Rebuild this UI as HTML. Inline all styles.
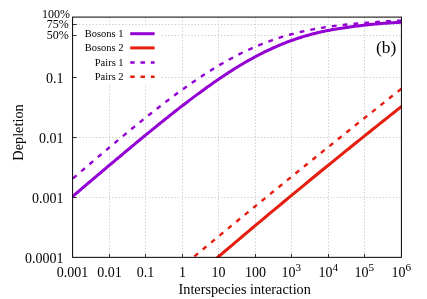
<!DOCTYPE html>
<html><head><meta charset="utf-8"><title>plot</title>
<style>html,body{margin:0;padding:0;background:#fff}svg{will-change:transform;opacity:0.999;filter:blur(0.35px)}svg text{font-family:"Liberation Serif",serif;fill:#000}</style>
</head><body>
<svg width="427" height="299" viewBox="0 0 427 299" style="display:block">
<rect width="427" height="299" fill="#fff"/>
<defs><clipPath id="c"><rect x="72.1" y="16.6" width="329.79999999999995" height="241.25000000000003"/></clipPath></defs>
<line x1="109.50" y1="17.1" x2="109.50" y2="257.35" stroke="#c6c6c6" stroke-width="0.9" stroke-dasharray="1.3,2.0"/>
<line x1="145.50" y1="17.1" x2="145.50" y2="257.35" stroke="#c6c6c6" stroke-width="0.9" stroke-dasharray="1.3,2.0"/>
<line x1="182.50" y1="17.1" x2="182.50" y2="257.35" stroke="#c6c6c6" stroke-width="0.9" stroke-dasharray="1.3,2.0"/>
<line x1="218.50" y1="17.1" x2="218.50" y2="257.35" stroke="#c6c6c6" stroke-width="0.9" stroke-dasharray="1.3,2.0"/>
<line x1="255.50" y1="17.1" x2="255.50" y2="257.35" stroke="#c6c6c6" stroke-width="0.9" stroke-dasharray="1.3,2.0"/>
<line x1="291.50" y1="17.1" x2="291.50" y2="257.35" stroke="#c6c6c6" stroke-width="0.9" stroke-dasharray="1.3,2.0"/>
<line x1="328.50" y1="17.1" x2="328.50" y2="257.35" stroke="#c6c6c6" stroke-width="0.9" stroke-dasharray="1.3,2.0"/>
<line x1="364.50" y1="17.1" x2="364.50" y2="257.35" stroke="#c6c6c6" stroke-width="0.9" stroke-dasharray="1.3,2.0"/>
<line x1="72.6" y1="24.50" x2="401.4" y2="24.50" stroke="#c6c6c6" stroke-width="0.9" stroke-dasharray="1.3,2.0"/>
<line x1="72.6" y1="35.50" x2="401.4" y2="35.50" stroke="#c6c6c6" stroke-width="0.9" stroke-dasharray="1.3,2.0"/>
<line x1="72.6" y1="77.50" x2="401.4" y2="77.50" stroke="#c6c6c6" stroke-width="0.9" stroke-dasharray="1.3,2.0"/>
<line x1="72.6" y1="137.50" x2="401.4" y2="137.50" stroke="#c6c6c6" stroke-width="0.9" stroke-dasharray="1.3,2.0"/>
<line x1="72.6" y1="197.50" x2="401.4" y2="197.50" stroke="#c6c6c6" stroke-width="0.9" stroke-dasharray="1.3,2.0"/>
<line x1="109.50" y1="257.35" x2="109.50" y2="254.05" stroke="#000" stroke-width="0.8"/>
<line x1="145.50" y1="257.35" x2="145.50" y2="254.05" stroke="#000" stroke-width="0.8"/>
<line x1="182.50" y1="257.35" x2="182.50" y2="254.05" stroke="#000" stroke-width="0.8"/>
<line x1="218.50" y1="257.35" x2="218.50" y2="254.05" stroke="#000" stroke-width="0.8"/>
<line x1="255.50" y1="257.35" x2="255.50" y2="254.05" stroke="#000" stroke-width="0.8"/>
<line x1="291.50" y1="257.35" x2="291.50" y2="254.05" stroke="#000" stroke-width="0.8"/>
<line x1="328.50" y1="257.35" x2="328.50" y2="254.05" stroke="#000" stroke-width="0.8"/>
<line x1="364.50" y1="257.35" x2="364.50" y2="254.05" stroke="#000" stroke-width="0.8"/>
<line x1="72.6" y1="24.50" x2="76.6" y2="24.50" stroke="#000" stroke-width="0.8"/>
<line x1="72.6" y1="35.50" x2="76.6" y2="35.50" stroke="#000" stroke-width="0.8"/>
<line x1="72.6" y1="77.50" x2="76.6" y2="77.50" stroke="#000" stroke-width="0.8"/>
<line x1="72.6" y1="137.50" x2="76.6" y2="137.50" stroke="#000" stroke-width="0.8"/>
<line x1="72.6" y1="197.50" x2="76.6" y2="197.50" stroke="#000" stroke-width="0.8"/>
<g clip-path="url(#c)" fill="none" stroke-width="3.05" stroke-linejoin="round">
<path d="M70.60,198.18 L72.27,196.75 L73.94,195.32 L75.62,193.90 L77.29,192.47 L78.96,191.05 L80.63,189.63 L82.31,188.20 L83.98,186.78 L85.65,185.36 L87.32,183.94 L89.00,182.52 L90.67,181.10 L92.34,179.68 L94.01,178.26 L95.69,176.85 L97.36,175.43 L99.03,174.01 L100.70,172.60 L102.37,171.19 L104.05,169.77 L105.72,168.36 L107.39,166.95 L109.06,165.54 L110.74,164.13 L112.41,162.73 L114.08,161.32 L115.75,159.92 L117.43,158.51 L119.10,157.11 L120.77,155.71 L122.44,154.31 L124.12,152.91 L125.79,151.52 L127.46,150.12 L129.13,148.73 L130.81,147.34 L132.48,145.95 L134.15,144.56 L135.82,143.18 L137.49,141.79 L139.17,140.41 L140.84,139.03 L142.51,137.66 L144.18,136.28 L145.86,134.91 L147.53,133.54 L149.20,132.17 L150.87,130.81 L152.55,129.44 L154.22,128.09 L155.89,126.73 L157.56,125.38 L159.24,124.03 L160.91,122.68 L162.58,121.34 L164.25,120.00 L165.92,118.66 L167.60,117.33 L169.27,116.00 L170.94,114.67 L172.61,113.35 L174.29,112.04 L175.96,110.72 L177.63,109.42 L179.30,108.11 L180.98,106.82 L182.65,105.52 L184.32,104.23 L185.99,102.95 L187.67,101.67 L189.34,100.40 L191.01,99.14 L192.68,97.88 L194.35,96.62 L196.03,95.37 L197.70,94.13 L199.37,92.90 L201.04,91.67 L202.72,90.45 L204.39,89.23 L206.06,88.03 L207.73,86.83 L209.41,85.64 L211.08,84.45 L212.75,83.28 L214.42,82.11 L216.10,80.95 L217.77,79.80 L219.44,78.66 L221.11,77.53 L222.78,76.41 L224.46,75.30 L226.13,74.19 L227.80,73.10 L229.47,72.02 L231.15,70.95 L232.82,69.89 L234.49,68.83 L236.16,67.79 L237.84,66.77 L239.51,65.75 L241.18,64.74 L242.85,63.75 L244.53,62.77 L246.20,61.80 L247.87,60.84 L249.54,59.89 L251.22,58.96 L252.89,58.04 L254.56,57.13 L256.23,56.23 L257.90,55.35 L259.58,54.48 L261.25,53.63 L262.92,52.78 L264.59,51.96 L266.27,51.14 L267.94,50.34 L269.61,49.55 L271.28,48.78 L272.96,48.01 L274.63,47.27 L276.30,46.53 L277.97,45.82 L279.65,45.11 L281.32,44.42 L282.99,43.74 L284.66,43.07 L286.33,42.42 L288.01,41.79 L289.68,41.16 L291.35,40.55 L293.02,39.96 L294.70,39.37 L296.37,38.81 L298.04,38.25 L299.71,37.71 L301.39,37.18 L303.06,36.66 L304.73,36.16 L306.40,35.67 L308.08,35.19 L309.75,34.73 L311.42,34.28 L313.09,33.84 L314.76,33.42 L316.44,33.00 L318.11,32.61 L319.78,32.22 L321.45,31.84 L323.13,31.48 L324.80,31.13 L326.47,30.79 L328.14,30.46 L329.82,30.15 L331.49,29.84 L333.16,29.54 L334.83,29.26 L336.51,28.98 L338.18,28.71 L339.85,28.44 L341.52,28.19 L343.19,27.93 L344.87,27.69 L346.54,27.45 L348.21,27.21 L349.88,26.98 L351.56,26.76 L353.23,26.54 L354.90,26.32 L356.57,26.10 L358.25,25.89 L359.92,25.69 L361.59,25.48 L363.26,25.29 L364.94,25.10 L366.61,24.91 L368.28,24.73 L369.95,24.55 L371.63,24.38 L373.30,24.22 L374.97,24.06 L376.64,23.91 L378.31,23.76 L379.99,23.62 L381.66,23.48 L383.33,23.35 L385.00,23.23 L386.68,23.11 L388.35,23.00 L390.02,22.89 L391.69,22.78 L393.37,22.68 L395.04,22.59 L396.71,22.50 L398.38,22.41 L400.06,22.32 L401.73,22.24 L403.40,22.16" stroke="#9400d3"/>
<path d="M205.00,268.20 L208.36,265.32 L211.73,262.45 L215.09,259.58 L218.45,256.72 L221.81,253.86 L225.18,251.00 L228.54,248.14 L231.90,245.29 L235.26,242.45 L238.63,239.61 L241.99,236.77 L245.35,233.93 L248.72,231.10 L252.08,228.28 L255.44,225.45 L258.80,222.63 L262.17,219.82 L265.53,217.01 L268.89,214.20 L272.25,211.39 L275.62,208.59 L278.98,205.80 L282.34,203.01 L285.71,200.22 L289.07,197.43 L292.43,194.65 L295.79,191.87 L299.16,189.10 L302.52,186.33 L305.88,183.56 L309.24,180.80 L312.61,178.04 L315.97,175.29 L319.33,172.54 L322.69,169.79 L326.06,167.05 L329.42,164.31 L332.78,161.57 L336.15,158.84 L339.51,156.11 L342.87,153.39 L346.23,150.67 L349.60,147.95 L352.96,145.24 L356.32,142.53 L359.68,139.83 L363.05,137.13 L366.41,134.43 L369.77,131.74 L373.14,129.05 L376.50,126.36 L379.86,123.68 L383.22,121.00 L386.59,118.33 L389.95,115.66 L393.31,112.99 L396.67,110.33 L400.04,107.67 L403.40,105.01" stroke="#e51e10"/>
<path d="M70.60,180.47 L72.27,179.03 L73.94,177.59 L75.62,176.15 L77.29,174.72 L78.96,173.28 L80.63,171.85 L82.31,170.42 L83.98,168.98 L85.65,167.55 L87.32,166.13 L89.00,164.70 L90.67,163.27 L92.34,161.85 L94.01,160.42 L95.69,159.00 L97.36,157.58 L99.03,156.17 L100.70,154.75 L102.37,153.34 L104.05,151.92 L105.72,150.51 L107.39,149.11 L109.06,147.70 L110.74,146.30 L112.41,144.89 L114.08,143.49 L115.75,142.10 L117.43,140.70 L119.10,139.31 L120.77,137.92 L122.44,136.54 L124.12,135.15 L125.79,133.77 L127.46,132.39 L129.13,131.02 L130.81,129.65 L132.48,128.28 L134.15,126.92 L135.82,125.55 L137.49,124.20 L139.17,122.84 L140.84,121.49 L142.51,120.15 L144.18,118.81 L145.86,117.47 L147.53,116.13 L149.20,114.81 L150.87,113.48 L152.55,112.16 L154.22,110.85 L155.89,109.54 L157.56,108.23 L159.24,106.94 L160.91,105.64 L162.58,104.35 L164.25,103.07 L165.92,101.80 L167.60,100.53 L169.27,99.26 L170.94,98.01 L172.61,96.75 L174.29,95.51 L175.96,94.27 L177.63,93.04 L179.30,91.82 L180.98,90.61 L182.65,89.40 L184.32,88.20 L185.99,87.01 L187.67,85.82 L189.34,84.65 L191.01,83.48 L192.68,82.32 L194.35,81.17 L196.03,80.03 L197.70,78.90 L199.37,77.78 L201.04,76.67 L202.72,75.57 L204.39,74.47 L206.06,73.39 L207.73,72.32 L209.41,71.26 L211.08,70.21 L212.75,69.17 L214.42,68.14 L216.10,67.12 L217.77,66.12 L219.44,65.12 L221.11,64.14 L222.78,63.17 L224.46,62.21 L226.13,61.26 L227.80,60.32 L229.47,59.40 L231.15,58.49 L232.82,57.59 L234.49,56.70 L236.16,55.83 L237.84,54.97 L239.51,54.12 L241.18,53.29 L242.85,52.47 L244.53,51.66 L246.20,50.86 L247.87,50.08 L249.54,49.31 L251.22,48.56 L252.89,47.81 L254.56,47.08 L256.23,46.37 L257.90,45.66 L259.58,44.97 L261.25,44.30 L262.92,43.63 L264.59,42.98 L266.27,42.34 L267.94,41.72 L269.61,41.11 L271.28,40.51 L272.96,39.92 L274.63,39.35 L276.30,38.78 L277.97,38.24 L279.65,37.70 L281.32,37.17 L282.99,36.66 L284.66,36.16 L286.33,35.67 L288.01,35.19 L289.68,34.73 L291.35,34.27 L293.02,33.83 L294.70,33.40 L296.37,32.98 L298.04,32.57 L299.71,32.17 L301.39,31.78 L303.06,31.40 L304.73,31.03 L306.40,30.67 L308.08,30.32 L309.75,29.98 L311.42,29.65 L313.09,29.32 L314.76,29.01 L316.44,28.71 L318.11,28.41 L319.78,28.12 L321.45,27.84 L323.13,27.57 L324.80,27.31 L326.47,27.05 L328.14,26.81 L329.82,26.57 L331.49,26.33 L333.16,26.10 L334.83,25.89 L336.51,25.67 L338.18,25.47 L339.85,25.26 L341.52,25.07 L343.19,24.88 L344.87,24.70 L346.54,24.52 L348.21,24.35 L349.88,24.18 L351.56,24.02 L353.23,23.87 L354.90,23.72 L356.57,23.57 L358.25,23.43 L359.92,23.29 L361.59,23.16 L363.26,23.03 L364.94,22.91 L366.61,22.77 L368.28,22.63 L369.95,22.49 L371.63,22.36 L373.30,22.23 L374.97,22.11 L376.64,21.98 L378.31,21.87 L379.99,21.75 L381.66,21.64 L383.33,21.53 L385.00,21.42 L386.68,21.32 L388.35,21.22 L390.02,21.12 L391.69,21.03 L393.37,20.93 L395.04,20.84 L396.71,20.75 L398.38,20.67 L400.06,20.58 L401.73,20.51 L403.40,20.45" stroke="#9400d3" stroke-width="2.4" stroke-dasharray="4.8,6.1" stroke-dashoffset="7.8"/>
<path d="M183.00,265.88 L186.74,262.77 L190.47,259.67 L194.21,256.56 L197.94,253.46 L201.68,250.37 L205.41,247.27 L209.15,244.18 L212.88,241.09 L216.62,238.00 L220.36,234.92 L224.09,231.84 L227.83,228.76 L231.56,225.68 L235.30,222.61 L239.03,219.54 L242.77,216.47 L246.51,213.41 L250.24,210.35 L253.98,207.29 L257.71,204.23 L261.45,201.18 L265.18,198.13 L268.92,195.08 L272.65,192.04 L276.39,188.99 L280.13,185.95 L283.86,182.92 L287.60,179.88 L291.33,176.85 L295.07,173.82 L298.80,170.80 L302.54,167.77 L306.27,164.75 L310.01,161.74 L313.75,158.72 L317.48,155.71 L321.22,152.70 L324.95,149.69 L328.69,146.69 L332.42,143.69 L336.16,140.69 L339.89,137.69 L343.63,134.70 L347.37,131.71 L351.10,128.72 L354.84,125.74 L358.57,122.76 L362.31,119.78 L366.04,116.80 L369.78,113.83 L373.52,110.86 L377.25,107.89 L380.99,104.92 L384.72,101.96 L388.46,99.00 L392.19,96.05 L395.93,93.09 L399.66,90.14 L403.40,87.19" stroke="#e51e10" stroke-width="2.4" stroke-dasharray="4.8,6.1" stroke-dashoffset="7.05"/>
</g>
<rect x="77.5" y="26" width="82.5" height="58" fill="#fff"/>
<line x1="130.2" y1="33.7" x2="154.6" y2="33.7" stroke="#9400d3" stroke-width="3.0"/>
<text x="123.6" y="37.1" font-size="10.5" text-anchor="end">Bosons 1</text>
<line x1="130.2" y1="47.9" x2="154.6" y2="47.9" stroke="#e51e10" stroke-width="3.0"/>
<text x="123.6" y="51.3" font-size="10.5" text-anchor="end">Bosons 2</text>
<line x1="130.2" y1="62.4" x2="154.6" y2="62.4" stroke="#9400d3" stroke-width="2.5" stroke-dasharray="4.5,5.8"/>
<text x="123.6" y="65.8" font-size="10.5" text-anchor="end">Pairs 1</text>
<line x1="130.2" y1="76.7" x2="154.6" y2="76.7" stroke="#e51e10" stroke-width="2.5" stroke-dasharray="4.5,5.8"/>
<text x="123.6" y="80.1" font-size="10.5" text-anchor="end">Pairs 2</text>
<rect x="72.6" y="17.1" width="328.79999999999995" height="240.25000000000003" fill="none" stroke="#000" stroke-width="1"/>
<text x="63.6" y="82.50" font-size="14" text-anchor="end">0.1</text>
<text x="63.6" y="142.50" font-size="14" text-anchor="end">0.01</text>
<text x="63.6" y="202.50" font-size="14" text-anchor="end">0.001</text>
<text x="63.6" y="262.50" font-size="14" text-anchor="end">0.0001</text>
<text x="70.0" y="17.8" font-size="12" text-anchor="end">100%</text>
<text x="68.8" y="27.5" font-size="12" text-anchor="end">75%</text>
<text x="68.8" y="39.1" font-size="12" text-anchor="end">50%</text>
<text x="72.50" y="276.8" font-size="14" text-anchor="middle">0.001</text>
<text x="109.50" y="276.8" font-size="14" text-anchor="middle">0.01</text>
<text x="145.50" y="276.8" font-size="14" text-anchor="middle">0.1</text>
<text x="182.50" y="276.8" font-size="14" text-anchor="middle">1</text>
<text x="218.50" y="276.8" font-size="14" text-anchor="middle">10</text>
<text x="255.50" y="276.8" font-size="14" text-anchor="middle">100</text>
<text x="291.30" y="277.3" font-size="14" text-anchor="middle">10<tspan font-size="11.2" dy="-6.8">3</tspan></text>
<text x="328.30" y="277.3" font-size="14" text-anchor="middle">10<tspan font-size="11.2" dy="-6.8">4</tspan></text>
<text x="364.30" y="277.3" font-size="14" text-anchor="middle">10<tspan font-size="11.2" dy="-6.8">5</tspan></text>
<text x="401.30" y="277.3" font-size="14" text-anchor="middle">10<tspan font-size="11.2" dy="-6.8">6</tspan></text>
<text x="244.7" y="293.6" font-size="14.22" text-anchor="middle">Interspecies interaction</text>
<text transform="translate(22.9,132.5) rotate(-90)" font-size="14.3" text-anchor="middle">Depletion</text>
<text x="386.2" y="52.8" font-size="17.4" text-anchor="middle">(b)</text>
</svg>
</body></html>
